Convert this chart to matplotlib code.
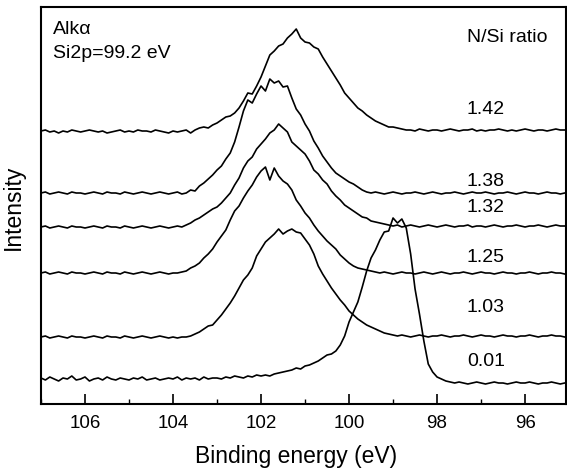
import numpy as np
import matplotlib
matplotlib.use('Agg')
import matplotlib.pyplot as plt
from matplotlib.ticker import MultipleLocator

plt.rcParams['font.family'] = ['Liberation Sans', 'DejaVu Sans']

# =============================================================================
# Data: Si2p spectra, sampled every 0.1 eV from 107.0 down to 95.1 eV
# (curves already stacked, arbitrary intensity units)
# =============================================================================
energy = np.round(107.0 - 0.1 * np.arange(120), 1)

ratio_labels = ['1.42', '1.38', '1.32', '1.25', '1.03', '0.01']

n142 = [273, 274, 272, 273, 271, 273, 272, 274, 273, 272,
        273, 274, 273, 272, 273, 271, 272, 273, 274, 272,
        273, 272, 274, 273, 273, 272, 274, 273, 272, 271,
        273, 272, 273, 274, 271, 274, 276, 277, 276, 279,
        281, 284, 287, 288, 291, 296, 303, 311, 310, 318,
        327, 338, 349, 353, 358, 360, 366, 370, 375, 366,
        362, 361, 357, 355, 347, 340, 333, 326, 319, 311,
        306, 301, 296, 293, 289, 286, 283, 281, 279, 277,
        277, 276, 275, 274, 274, 273, 275, 274, 273, 274,
        274, 273, 274, 275, 274, 273, 274, 274, 275, 273,
        274, 273, 274, 274, 275, 274, 273, 274, 273, 274,
        275, 274, 273, 274, 274, 273, 274, 275, 274, 274]

n138 = [211, 212, 210, 211, 212, 211, 210, 212, 211, 211,
        210, 211, 212, 211, 210, 212, 211, 211, 210, 212,
        211, 210, 211, 212, 211, 210, 211, 212, 211, 210,
        211, 212, 210, 211, 214, 213, 218, 221, 225, 229,
        234, 238, 245, 251, 262, 277, 293, 304, 301, 310,
        318, 313, 325, 321, 323, 317, 318, 306, 295, 289,
        280, 273, 263, 256, 248, 242, 236, 231, 228, 225,
        222, 220, 217, 214, 212, 211, 212, 211, 210, 211,
        212, 211, 210, 211, 211, 212, 211, 210, 211, 212,
        211, 210, 211, 211, 212, 211, 210, 211, 212, 211,
        211, 212, 211, 210, 211, 211, 212, 211, 210, 211,
        212, 211, 211, 210, 211, 212, 211, 211, 210, 211]

n132 = [177, 178, 176, 177, 178, 177, 176, 178, 177, 177,
        176, 177, 178, 177, 176, 178, 177, 177, 176, 178,
        177, 176, 177, 178, 177, 176, 177, 178, 177, 176,
        177, 178, 177, 179, 181, 184, 186, 189, 192, 195,
        197, 201, 206, 211, 219, 226, 236, 243, 247, 255,
        260, 265, 271, 274, 280, 276, 272, 262, 258, 254,
        250, 243, 234, 230, 224, 220, 213, 208, 204, 199,
        196, 193, 190, 187, 186, 183, 182, 181, 180, 179,
        178, 179, 177, 178, 179, 178, 177, 178, 179, 178,
        177, 178, 179, 178, 177, 178, 178, 179, 177, 178,
        178, 177, 178, 179, 178, 177, 178, 178, 179, 178,
        177, 178, 178, 179, 178, 177, 178, 179, 178, 178]

n125 = [131, 132, 130, 131, 132, 131, 130, 132, 131, 131,
        130, 131, 132, 131, 130, 132, 131, 131, 130, 132,
        131, 130, 131, 132, 131, 130, 131, 132, 131, 130,
        131, 131, 132, 133, 136, 138, 141, 146, 150, 155,
        162, 168, 174, 184, 193, 198, 206, 213, 219, 227,
        233, 237, 224, 236, 228, 223, 220, 214, 204, 198,
        191, 186, 179, 173, 168, 163, 159, 155, 149, 145,
        141, 138, 136, 135, 134, 133, 132, 131, 132, 131,
        130, 131, 132, 131, 131, 130, 131, 132, 131, 130,
        131, 132, 131, 130, 131, 131, 132, 131, 130, 131,
        132, 131, 131, 130, 131, 132, 131, 131, 130, 131,
        131, 132, 131, 130, 131, 131, 132, 131, 131, 130]

n103 = [67, 68, 66, 67, 68, 67, 66, 68, 67, 67,
        66, 67, 68, 67, 66, 68, 67, 67, 66, 68,
        67, 66, 67, 68, 67, 66, 67, 68, 67, 66,
        67, 66, 67, 67, 68, 70, 72, 75, 78, 79,
        84, 89, 95, 101, 108, 116, 124, 129, 136, 148,
        155, 162, 166, 170, 175, 170, 173, 175, 172, 171,
        165, 159, 150, 138, 130, 123, 116, 110, 104, 99,
        93, 89, 85, 82, 79, 77, 75, 73, 71, 70,
        69, 68, 69, 68, 67, 68, 69, 68, 67, 68,
        68, 69, 68, 67, 68, 68, 69, 68, 67, 68,
        69, 68, 68, 67, 68, 69, 68, 68, 67, 68,
        68, 69, 68, 67, 68, 68, 69, 68, 68, 67]

n001 = [26, 24, 27, 25, 23, 26, 25, 28, 24, 25,
        27, 23, 25, 26, 24, 27, 25, 24, 26, 25,
        24, 26, 25, 27, 24, 25, 26, 24, 25, 26,
        25, 27, 24, 26, 25, 26, 24, 27, 25, 26,
        26, 25, 27, 26, 28, 27, 26, 28, 27, 29,
        28, 29, 28, 30, 31, 32, 33, 34, 36, 35,
        38, 39, 41, 43, 46, 49, 50, 53, 59, 68,
        82, 92, 102, 117, 133, 146, 154, 164, 172, 173,
        186, 181, 185, 176, 150, 115, 90, 63, 40, 32,
        27, 25, 23, 22, 21, 22, 21, 20, 21, 22,
        21, 20, 21, 22, 21, 21, 20, 21, 22, 21,
        21, 22, 21, 20, 21, 21, 22, 21, 20, 21]

spectra = [n142, n138, n132, n125, n103, n001]
label_y = [294, 222, 196, 147, 97, 42]

# =============================================================================
# Figure
# =============================================================================
fig = plt.figure(figsize=(5.67, 4.70), dpi=100)
ax = fig.add_axes([41 / 567, 1 - 404 / 470, 525 / 567, 397 / 470])

for ys in spectra:
    ax.plot(energy, ys, color='black', linewidth=1.2)

ax.set_xlim(107.0, 95.07)
ax.set_ylim(0, 397)

# ticks: inward, bottom only, no y ticks
ax.xaxis.set_major_locator(MultipleLocator(2))
ax.xaxis.set_minor_locator(MultipleLocator(1))
ax.tick_params(axis='x', which='major', direction='in', length=7, width=1.2,
               labelsize=13.5, pad=8)
ax.tick_params(axis='x', which='minor', direction='in', length=3.5, width=1.0)
ax.set_yticks([])
for sp in ax.spines.values():
    sp.set_linewidth(1.5)

ax.set_xlabel('Binding energy (eV)', fontsize=16.5)
ax.xaxis.set_label_coords(0.486, -0.103)
ax.set_ylabel('Intensity', fontsize=16.5)
ax.yaxis.set_label_coords(-0.030, 0.495)

# annotations
ax.text(106.73, 375, 'Alk\u03b1', fontsize=14, ha='left', va='center')
ax.text(106.73, 350, 'Si2p=99.2 eV', fontsize=14, ha='left', va='center')
ax.text(96.41, 367, 'N/Si ratio', fontsize=14, ha='center', va='center')
for lab, yl in zip(ratio_labels, label_y):
    ax.text(96.89, yl, lab, fontsize=14, ha='center', va='center')

fig.savefig('out.png', dpi=100, facecolor='white')
plt.close(fig)
